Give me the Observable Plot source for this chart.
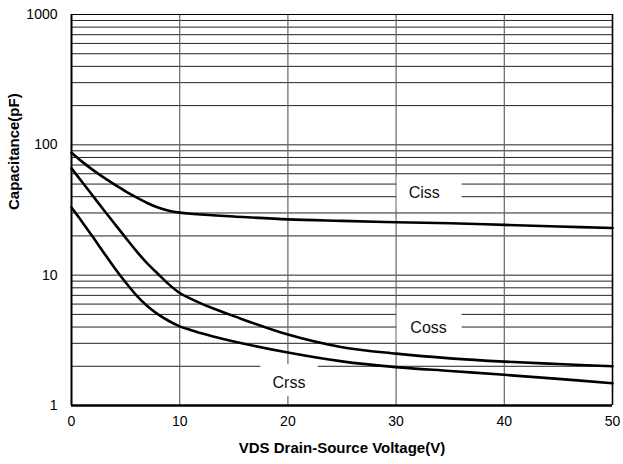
<!DOCTYPE html>
<html><head><meta charset="utf-8">
<script src="https://cdn.jsdelivr.net/npm/d3@7"></script>
<script src="https://cdn.jsdelivr.net/npm/@observablehq/plot@0.6"></script>
<style>body{margin:0;background:#fff;}</style>
</head><body><div id="chart"></div>
<script>
// Drain-source voltage samples (V)
const vds = [0,1,2,3,4,5,6,7,8,9,10,11,12,13,15,20,25,30,35,40,45,50];
// Capacitances (pF)
const ciss = [87,74,64,56,49.5,44,39.5,35.8,33,31.2,30.2,29.6,29.2,28.8,28.2,26.8,26.1,25.5,25,24.3,23.6,23];
const coss = [66,51.6,40.3,31.5,24.7,19.4,15.3,12.3,10.2,8.5,7.3,6.6,6.05,5.6,4.85,3.5,2.8,2.5,2.3,2.17,2.08,2.0];
const crss = [33,25.5,19.5,14.8,11.3,8.8,7.0,5.8,5.0,4.45,4.05,3.8,3.58,3.4,3.1,2.55,2.18,1.97,1.84,1.72,1.6,1.48];

const xTicks = [0,10,20,30,40,50];
const yTicks = [1,10,100,1000];
const gridY = [1,2,3,4,5,6,7,8,9,10,20,30,40,50,60,70,80,90,100,200,300,400,500,600,700,800,900,1000];
const gridX = [10,20,30,40];

// Curve labels with their white label boxes (data units)
const labelNames = ["Ciss","Coss","Crss"];
const labelX = [32.6, 33.0, 20.1];
const labelY = [43, 3.94, 1.5];
const boxX1 = [30.1, 30.1, 17.5];
const boxX2 = [36.1, 36.1, 22.8];
const boxY1 = [31.3, 3.13, 1.17];
const boxY2 = [57, 5.6, 2.06];

const series = [
  {name:"Ciss", values:ciss},
  {name:"Coss", values:coss},
  {name:"Crss", values:crss}
];
const rows = series.flatMap(s => vds.map((v,i) => ({series:s.name, vds:v, c:s.values[i]})));
const labels = labelNames.map((n,i) => ({name:n, x:labelX[i], y:labelY[i], x1:boxX1[i], x2:boxX2[i], y1:boxY1[i], y2:boxY2[i]}));

const font = "'Liberation Sans', Arial, sans-serif";

const chart = Plot.plot({
  width: 623,
  height: 464,
  marginLeft: 71,
  marginRight: 11,
  marginTop: 14,
  marginBottom: 59,
  style: {fontFamily: font, background: "#fff", color: "#000"},
  x: {domain: [0, 50]},
  y: {type: "log", domain: [1, 1000]},
  marks: [
    Plot.ruleY(gridY, {stroke: "#222", strokeWidth: 1}),
    Plot.ruleX(gridX, {stroke: "#666", strokeWidth: 1.2}),
    Plot.rect(labels, {x1: "x1", x2: "x2", y1: "y1", y2: "y2", fill: "#fff"}),
    Plot.line(rows, {x: "vds", y: "c", z: "series", stroke: "#000", strokeWidth: 2.6, curve: "catmull-rom"}),
    Plot.text(labels, {x: "x", y: "y", text: "name", fontSize: 16, fill: "#111"}),
    Plot.ruleX([0], {stroke: "#000", strokeWidth: 2}),
    Plot.ruleX([50], {stroke: "#000", strokeWidth: 1.6}),
    Plot.ruleY([1], {stroke: "#000", strokeWidth: 2.6}),
    Plot.ruleY([1000], {stroke: "#000", strokeWidth: 1.2}),
    Plot.axisX({ticks: xTicks, tickSize: 0, tickPadding: 11, fontSize: 14, label: null, tickFormat: d => String(d)}),
    Plot.axisY({ticks: yTicks, tickSize: 0, tickPadding: 14, fontSize: 14, label: null, tickFormat: d => String(d)}),
    Plot.text(["VDS Drain-Source Voltage(V)"], {frameAnchor: "bottom", dy: 47, fontSize: 15, fontWeight: "bold", fill: "#000"}),
    Plot.text(["Capacitance(pF)"], {frameAnchor: "left", dx: -57, rotate: -90, fontSize: 15, fontWeight: "bold", fill: "#000"})
  ]
});
document.getElementById("chart").appendChild(chart);
</script>
</body></html>
